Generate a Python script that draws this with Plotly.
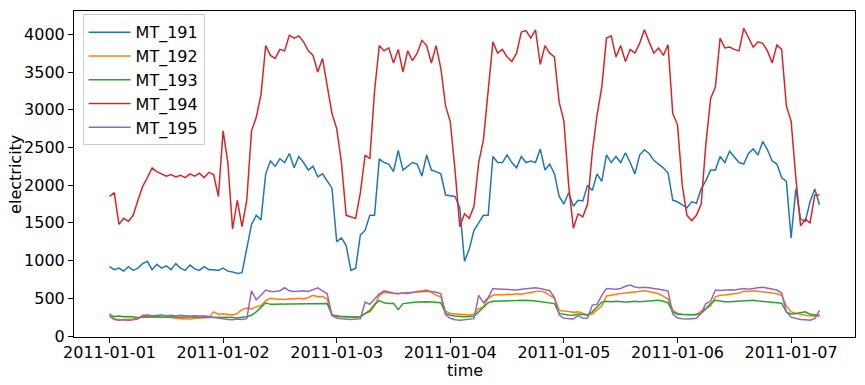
import pandas as pd
import plotly.graph_objects as go

# hourly timestamps
times = pd.date_range("2011-01-01 00:00", periods=151, freq="h")

mt_191 = [920, 880, 900, 860, 920, 870, 900, 960, 990, 880, 950, 900, 930, 880, 960, 900, 870, 940, 890, 870,
          920, 880, 880, 870, 900, 860, 850, 830, 840, 1150, 1480, 1600, 1540, 2150, 2320, 2250, 2350, 2300, 2420, 2230,
          2380, 2300, 2200, 2250, 2110, 2150, 2050, 1960, 1250, 1300, 1200, 870, 900, 1340, 1400, 1600, 1600, 2350, 2300, 2280,
          2180, 2460, 2200, 2250, 2300, 2280, 2120, 2400, 2200, 2180, 2150, 1870, 1860, 1850, 1700, 990, 1150, 1400, 1500, 1600,
          1600, 2380, 2300, 2300, 2400, 2300, 2230, 2380, 2300, 2320, 2300, 2480, 2200, 2280, 2150, 1850, 1750, 1900, 1720, 1800,
          1790, 2000, 1930, 2150, 2050, 2400, 2300, 2380, 2300, 2430, 2300, 2150, 2400, 2470, 2420, 2330, 2280, 2230, 2160, 1800,
          1780, 1740, 1700, 1780, 1760, 1950, 2060, 2200, 2200, 2380, 2300, 2450, 2380, 2300, 2280, 2420, 2480, 2400, 2580, 2470,
          2320, 2280, 2100, 2050, 1300, 1950, 1550, 1520, 1780, 1950, 1740]

mt_192 = [300, 230, 215, 215, 220, 225, 240, 255, 255, 260, 250, 255, 250, 245, 235, 230, 230, 225, 235, 240,
          240, 245, 320, 290, 295, 290, 280, 300, 350, 370, 360, 390, 400, 470, 500, 490, 490, 485, 495, 490,
          500, 490, 510, 540, 520, 525, 490, 280, 260, 255, 250, 250, 255, 260, 300, 320, 400, 540, 580, 570,
          565, 560, 570, 560, 580, 590, 600, 610, 580, 540, 520, 330, 300, 295, 290, 285, 280, 290, 360, 390,
          500, 540, 550, 545, 555, 550, 560, 555, 570, 575, 590, 595, 580, 540, 500, 340, 330, 320, 315, 320,
          300, 280, 290, 345, 400, 530, 545, 560, 565, 570, 575, 580, 590, 600, 590, 580, 560, 530, 490, 345,
          300, 290, 285, 290, 280, 330, 360, 400, 520, 540, 545, 550, 560, 570, 595, 590, 600, 595, 585, 580,
          570, 560, 540, 400, 320, 300, 290, 280, 265, 270, 260]

mt_193 = [280, 260, 265, 255, 260, 250, 245, 250, 255, 260, 255, 250, 255, 260, 255, 250, 255, 260, 255, 250,
          255, 250, 245, 250, 245, 250, 245, 240, 250, 255, 275, 320, 380, 440, 420, 420, 425, 420, 425, 430,
          425, 420, 430, 425, 430, 425, 430, 280, 265, 260, 260, 255, 250, 255, 300, 340, 420, 470, 440, 430,
          435, 350, 430, 440, 445, 450, 455, 455, 450, 445, 440, 300, 275, 265, 260, 255, 260, 265, 320, 380,
          440, 460, 460, 465, 460, 470, 470, 475, 475, 470, 465, 455, 445, 435, 430, 300, 285, 280, 275, 290,
          285, 280, 320, 380, 450, 460, 455, 460, 455, 450, 455, 460, 455, 460, 465, 470, 475, 460, 440, 320,
          290, 285, 280, 282, 290, 300, 360, 430, 475, 460, 455, 455, 460, 460, 465, 470, 475, 465, 460, 450,
          445, 440, 435, 320, 290, 300, 310, 320, 290, 280, 275]

mt_194 = [1850, 1900, 1480, 1560, 1520, 1600, 1800, 1980, 2100, 2230, 2180, 2150, 2120, 2140, 2110, 2130, 2100, 2150, 2120, 2160,
          2100, 2170, 2140, 1850, 2720, 2300, 1420, 1800, 1450, 1800, 2720, 2900, 3200, 3850, 3720, 3680, 3800, 3780, 3990, 3950,
          3980, 3900, 3780, 3720, 3500, 3680, 3300, 2950, 2750, 2300, 1600, 1580, 1560, 1900, 2400, 2350, 3250, 3850, 3780, 3820,
          3620, 3800, 3500, 3780, 3650, 3750, 3920, 3850, 3620, 3850, 3550, 3050, 2840, 2200, 1450, 1620, 1560, 1720, 2300, 2600,
          3250, 3900, 3750, 3800, 3700, 3640, 3750, 4030, 4050, 3950, 4060, 3600, 3850, 3750, 3700, 3100, 2850, 2000, 1430, 1620,
          1580, 1750, 2440, 2930, 3300, 3950, 3980, 3700, 3850, 3640, 3800, 3750, 3880, 4060, 3900, 3750, 3820, 3720, 3860, 2950,
          2800, 2000, 1600, 1530, 1600, 1750, 2550, 3150, 3300, 3950, 3820, 3830, 3800, 3780, 4080, 3950, 3830, 3900, 3880, 3780,
          3620, 3860, 3800, 3050, 2850, 2100, 1460, 1550, 1500, 1870, 1870]

mt_195 = [260, 220, 210, 215, 205, 215, 225, 275, 280, 270, 275, 280, 270, 275, 265, 275, 270, 265, 270, 265,
          270, 260, 250, 240, 225, 220, 215, 225, 220, 230, 600, 480, 540, 610, 590, 590, 600, 640, 600, 590,
          595, 600, 590, 610, 640, 600, 560, 270, 240, 230, 225, 220, 225, 230, 450, 420, 490, 560, 600, 580,
          570, 565, 570, 575, 585, 590, 590, 595, 590, 580, 560, 280, 235, 215, 210, 215, 220, 230, 540, 440,
          510, 630, 625, 620, 610, 615, 610, 620, 625, 630, 640, 630, 615, 600, 510, 280, 235, 230, 225, 270,
          235, 240, 410, 420, 540, 630, 625, 620, 630, 660, 675, 650, 640, 645, 640, 625, 620, 610, 595, 290,
          240, 230, 225, 230, 235, 300, 430, 460, 610, 605, 610, 615, 610, 625, 630, 620, 635, 640, 645, 630,
          620, 610, 570, 320, 250, 230, 220, 215, 210, 230, 340]

series_names = ["MT_191", "MT_192", "MT_193", "MT_194", "MT_195"]
series_values = [mt_191, mt_192, mt_193, mt_194, mt_195]
colors = ["#1f77b4", "#ff7f0e", "#2ca02c", "#d62728", "#9467bd"]

x_tick_vals = ["2011-01-01", "2011-01-02", "2011-01-03", "2011-01-04", "2011-01-05", "2011-01-06", "2011-01-07"]
y_tick_vals = [0, 500, 1000, 1500, 2000, 2500, 3000, 3500, 4000]

fig = go.Figure()
for name, vals, col in zip(series_names, series_values, colors):
    fig.add_trace(go.Scatter(x=times, y=vals, mode="lines", name=name,
                             line=dict(color=col, width=1.5)))

font_family = "DejaVu Sans, sans-serif"
fig.update_layout(
    width=865, height=385,
    margin=dict(l=74, r=10, t=11, b=48, autoexpand=False),
    paper_bgcolor="white", plot_bgcolor="white",
    font=dict(family=font_family, size=16, color="black"),
    showlegend=True,
    legend=dict(x=0.011, y=0.99, xanchor="left", yanchor="top",
                bgcolor="rgba(255,255,255,0.8)", bordercolor="#cccccc", borderwidth=1,
                font=dict(size=16, family=font_family), tracegroupgap=0, itemwidth=42),
    annotations=[
        dict(text="time", xref="paper", yref="paper", x=0.5, y=-0.104, xanchor="center", yanchor="middle",
             showarrow=False, font=dict(size=16)),
        dict(text="electricity", xref="paper", yref="paper", x=-0.0757, y=0.5, xanchor="center", yanchor="middle",
             textangle=-90, showarrow=False, font=dict(size=16)),
    ],
)
fig.update_xaxes(
    type="date", automargin=False,
    range=["2010-12-31 16:30", "2011-01-07 13:30"],
    tickvals=x_tick_vals, ticktext=x_tick_vals,
    ticks="outside", ticklen=5, tickwidth=1, tickcolor="black",
    ticklabelstandoff=-4,
    showline=True, linecolor="black", linewidth=1, mirror=True,
    showgrid=False, zeroline=False,
    tickfont=dict(size=16),
)
fig.update_yaxes(
    automargin=False,
    range=[-13, 4309],
    tickvals=y_tick_vals,
    ticks="outside", ticklen=5, tickwidth=1, tickcolor="black",
    showline=True, linecolor="black", linewidth=1, mirror=True,
    showgrid=False, zeroline=False,
    tickfont=dict(size=16),
)

fig.write_html(
    "out.html",
    config={"displayModeBar": False},
    post_script="document.body.style.margin='0px';document.body.style.overflow='hidden';",
)
